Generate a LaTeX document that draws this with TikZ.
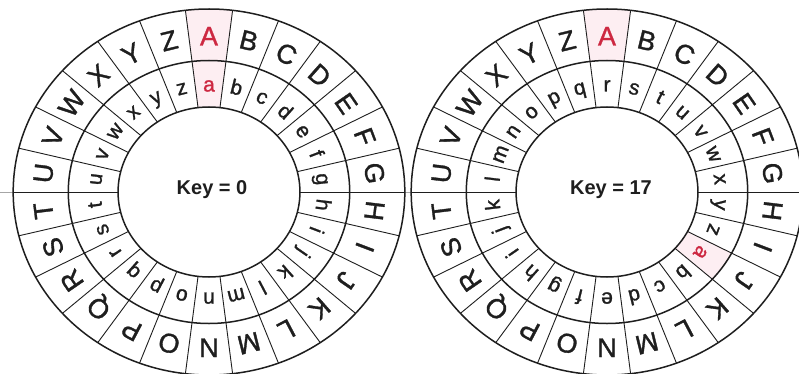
\documentclass[tikz,border=0pt]{standalone}
\usepackage{fontspec}
\setmainfont{Liberation Sans}
\newfontfamily\ringfont[FakeBold=1.2]{Liberation Sans}
\definecolor{keyred}{RGB}{205,40,65}
\definecolor{cellpink}{RGB}{253,238,242}
\definecolor{ink}{RGB}{30,30,30}
\tikzset{
  ringline/.style={draw=ink, line width=1.5pt},
  spoke/.style={draw=ink, line width=0.9pt},
  guide/.style={draw=gray!70, line width=0.9pt},
  bigletter/.style={font=\ringfont\fontsize{27}{27}\selectfont, text=ink, inner sep=0pt, text height=19pt, text depth=0pt},
  smallletter/.style={font=\ringfont\fontsize{21}{21}\selectfont, text=ink, inner sep=0pt, text height=13pt, text depth=0pt},
  keylabel/.style={font=\bfseries\fontsize{20}{20}\selectfont, text=ink, inner sep=0pt}
}
\newcommand\cipherwheel[3]{%
  % #1 = centre x, #2 = key, #3 = name
  \pgfmathtruncatemacro\redpos{mod(26-#2,26)}
  \begin{scope}[shift={(#1,192)}, yscale=-1, xscale=1.07]
    % pink cell behind A
    \fill[cellpink] (83.077:183) arc[start angle=83.077,end angle=96.923,radius=183]
      -- (96.923:131.5) arc[start angle=96.923,end angle=83.077,radius=131.5] -- cycle;
    % pink cell behind a
    \pgfmathsetmacro\pa{90-\redpos*13.84615}
    \pgfmathsetmacro\pb{\pa-6.923}
    \pgfmathsetmacro\pc{\pa+6.923}
    \fill[cellpink] (\pb:131.5) arc[start angle=\pb,end angle=\pc,radius=131.5]
      -- (\pc:85) arc[start angle=\pc,end angle=\pb,radius=85] -- cycle;
    % rings
    \draw[ringline] (0,0) circle (183);
    \draw[ringline] (0,0) circle (131.5);
    \draw[ringline] (0,0) circle (85);
    \foreach \i in {0,...,25}{
      \pgfmathsetmacro\th{90-\i*13.84615}
      \pgfmathsetmacro\sp{\th+6.923}
      \pgfmathsetmacro\rot{\th-90}
      \pgfmathtruncatemacro\j{mod(\i+#2,26)}
      \draw[spoke] (\sp:85) -- (\sp:183);
      \ifnum\i=0
        \node[bigletter, text=keyred, rotate=\rot] (#3U\i) at (\th:156) {\char\numexpr 65+\i\relax};
      \else
        \node[bigletter, rotate=\rot] (#3U\i) at (\th:156) {\char\numexpr 65+\i\relax};
      \fi
      \ifnum\j=0
        \node[smallletter, text=keyred, rotate=\rot] (#3L\i) at (\th:107) {\char\numexpr 97+\j\relax};
      \else
        \node[smallletter, rotate=\rot] (#3L\i) at (\th:107) {\char\numexpr 97+\j\relax};
      \fi
    }
  \end{scope}}
\begin{document}
\begin{tikzpicture}[x=1pt,y=-1pt]
  \useasboundingbox (0,0) rectangle (799,374);
  \fill[white] (0,0) rectangle (799,374);
  % grey guide line through both wheels
  \coordinate (g0) at (0,192);
  \coordinate (g1) at (13.2,192);
  \coordinate (g2) at (404.8,192);
  \coordinate (g3) at (411.2,192);
  \draw[guide] (g0) -- (g1);
  \draw[guide] (g2) -- (g3);
  \cipherwheel{209}{0}{left}
  \cipherwheel{607}{17}{right}
  \node[keylabel] (key0) at (212,190) {Key = 0};
  \node[keylabel] (key17) at (611,190) {Key = 17};
\end{tikzpicture}
\end{document}
